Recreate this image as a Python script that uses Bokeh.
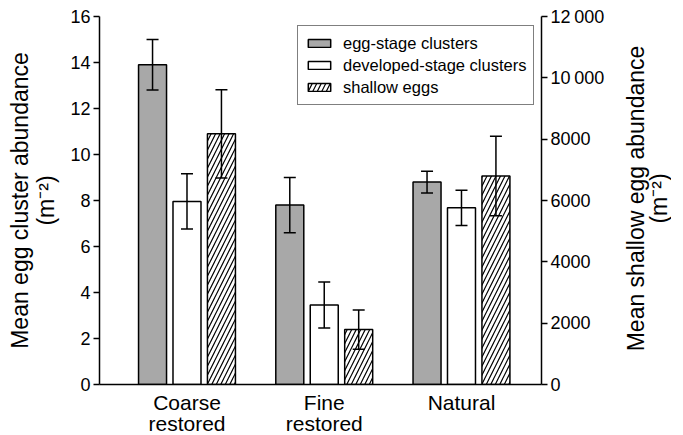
import math
import numpy as np
from bokeh.plotting import figure
from bokeh.layouts import row
from bokeh.models import (Range1d, LinearAxis, FixedTicker, Whisker, TeeHead,
                          ColumnDataSource, Legend, Label)
from bokeh.embed import file_html
from bokeh.resources import INLINE

# ---- data ----
categories = ["Coarse\nrestored", "Fine\nrestored", "Natural"]
egg_stage = [13.9, 7.8, 8.8]
egg_stage_se = [1.1, 1.2, 0.47]
developed = [7.96, 3.46, 7.68]
developed_se = [1.2, 1.0, 0.77]
shallow = [8175, 1790, 6800]
shallow_se = [1440, 640, 1295]
left_ticks = [0, 2, 4, 6, 8, 10, 12, 14, 16]
right_ticks = [0, 2000, 4000, 6000, 8000, 10000, 12000]
right_tick_labels = ["0", "2000", "4000", "6000", "8000", "10\u2009000", "12\u2009000"]

FONT = "Liberation Sans"
xc = np.arange(1, len(categories) + 1)
off = 0.251
bw = 0.204

p = figure(frame_width=442, frame_height=368, output_backend="svg",
           toolbar_location=None,
           x_range=Range1d(0.3625, 3.583), y_range=Range1d(0, 16),
           min_border_left=99, min_border_right=70, min_border_top=16,
           min_border_bottom=40)
p.extra_y_ranges = {"right": Range1d(0, 12000)}
p.outline_line_color = None
p.xgrid.visible = False
p.ygrid.visible = False
p.background_fill_color = "white"
p.border_fill_color = "white"

src_e = ColumnDataSource(dict(x=xc - off, top=egg_stage,
                              lo=np.array(egg_stage) - np.array(egg_stage_se),
                              hi=np.array(egg_stage) + np.array(egg_stage_se)))
src_d = ColumnDataSource(dict(x=xc, top=developed,
                              lo=np.array(developed) - np.array(developed_se),
                              hi=np.array(developed) + np.array(developed_se)))
src_s = ColumnDataSource(dict(x=xc + off, top=shallow,
                              lo=np.array(shallow) - np.array(shallow_se),
                              hi=np.array(shallow) + np.array(shallow_se)))

r1 = p.vbar(x="x", top="top", width=bw, source=src_e, fill_color="#a8a8a8",
            line_color="black", line_width=1.5)
r2 = p.vbar(x="x", top="top", width=bw, source=src_d, fill_color="white",
            line_color="black", line_width=1.5)
r3 = p.vbar(x="x", top="top", width=bw, source=src_s, fill_color="white",
            line_color="black", line_width=1.5, hatch_pattern="right_diagonal_line",
            hatch_color="black", hatch_weight=1.2, hatch_scale=9,
            y_range_name="right")

for src, rng in [(src_e, "default"), (src_d, "default"), (src_s, "right")]:
    w = Whisker(source=src, base="x", lower="lo", upper="hi", line_width=1.5,
                line_color="black", level="overlay",
                upper_head=TeeHead(size=12, line_width=1.5, line_color="black"),
                lower_head=TeeHead(size=12, line_width=1.5, line_color="black"),
                y_range_name=rng)
    p.add_layout(w)

# axes
xa = p.xaxis[0]
xa.ticker = FixedTicker(ticks=list(xc))
xa.major_label_overrides = {int(i): c for i, c in zip(xc, categories)}
xa.major_tick_line_color = None
xa.minor_tick_line_color = None
xa.axis_line_width = 1.5
xa.major_label_text_font = FONT
xa.major_label_text_font_size = "21px"
xa.major_label_text_line_height = 0.95
xa.major_label_text_color = "black"
xa.major_label_standoff = 0

ya = p.yaxis[0]
ya.ticker = FixedTicker(ticks=left_ticks)
ya.axis_label = "Mean egg cluster abundance\n(m\u207b\u00b2)"
ya.axis_line_width = 1.5
ya.major_tick_line_width = 1.5
ya.major_tick_out = 6
ya.major_tick_in = 0
ya.minor_tick_line_color = None
ya.major_label_text_font = FONT
ya.major_label_text_font_size = "18px"
ya.major_label_text_color = "black"
ya.major_label_standoff = 3
ya.axis_label_text_font = FONT
ya.axis_label_text_font_size = "23px"
ya.axis_label_text_line_height = 1.0
ya.axis_label_text_font_style = "normal"
ya.axis_label_text_color = "black"
ya.axis_label_standoff = 8

ra = LinearAxis(y_range_name="right", ticker=FixedTicker(ticks=right_ticks))
ra.major_label_overrides = {t: l for t, l in zip(right_ticks, right_tick_labels)}
ra.axis_line_width = 1.5
ra.major_tick_line_width = 1.5
ra.major_tick_out = 6
ra.major_tick_in = 0
ra.minor_tick_line_color = None
ra.major_label_text_font = FONT
ra.major_label_text_font_size = "18px"
ra.major_label_text_color = "black"
ra.major_label_standoff = 3
p.add_layout(ra, "right")

legend = Legend(items=[("egg-stage clusters", [r1]),
                       ("developed-stage clusters", [r2]),
                       ("shallow eggs", [r3])],
                location=(198, 279))
legend.border_line_color = "black"
legend.border_line_width = 1.5
legend.background_fill_alpha = 1
legend.label_text_font = FONT
legend.label_text_font_size = "16.5px"
legend.label_text_color = "black"
legend.glyph_width = 28
legend.glyph_height = 10
legend.label_height = 20
legend.label_standoff = 10
legend.spacing = 2
legend.padding = 7
legend.margin = 0
p.add_layout(legend)

# narrow panel holding the right-hand axis title (reads bottom-to-top)
q = figure(frame_width=60, frame_height=368, output_backend="svg",
           toolbar_location=None, x_range=Range1d(0, 1), y_range=Range1d(0, 1),
           min_border_left=0, min_border_right=0, min_border_top=16,
           min_border_bottom=40)
q.axis.visible = False
q.grid.visible = False
q.outline_line_color = None
q.border_fill_color = "white"
right_label = Label(x=36, y=186, x_units="screen", y_units="screen",
                    text="Mean shallow egg abundance\n(m\u207b\u00b2)",
                    angle=math.pi / 2, text_align="center", text_baseline="middle",
                    text_font=FONT, text_font_size="23px", text_line_height=0.9,
                    text_color="black")
q.add_layout(right_label)

open("out.html", "w").write(file_html(row(p, q), INLINE))
